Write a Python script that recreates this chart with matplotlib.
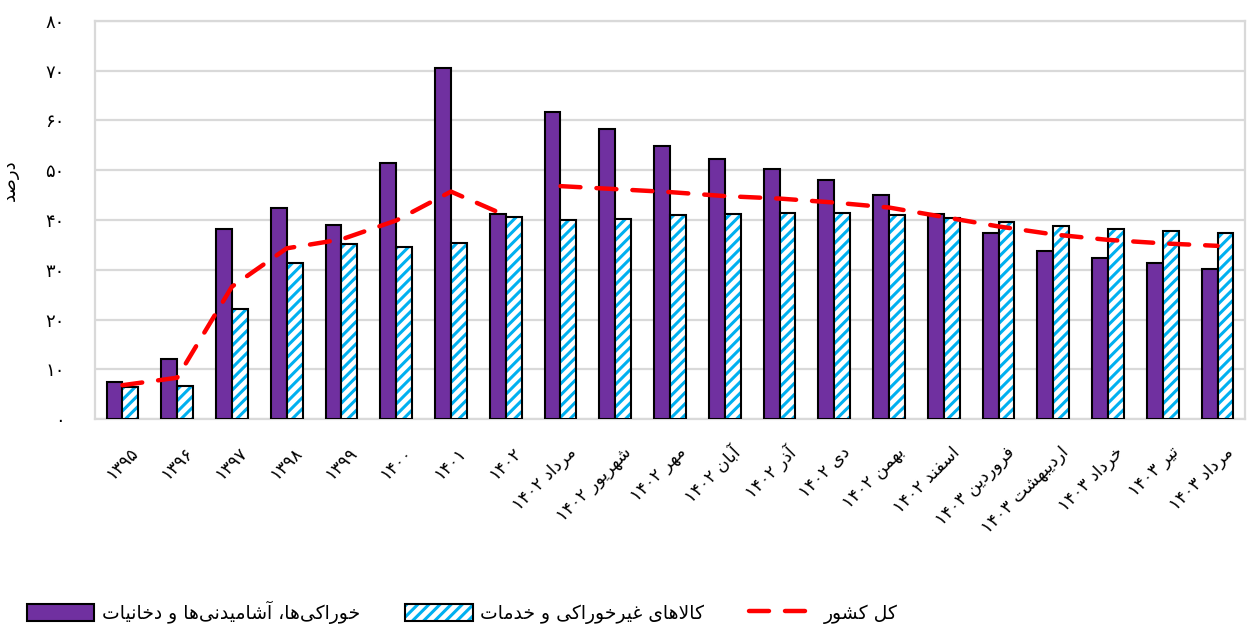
import re
import numpy as np
import matplotlib
matplotlib.use("Agg")
import matplotlib.pyplot as plt
import matplotlib.transforms as mtransforms
from matplotlib.patches import Patch
from matplotlib.lines import Line2D
from matplotlib.legend_handler import HandlerTuple

# ---------------- data ----------------
categories = ["۱۳۹۵", "۱۳۹۶", "۱۳۹۷", "۱۳۹۸", "۱۳۹۹", "۱۴۰۰", "۱۴۰۱", "۱۴۰۲",
              "مرداد ۱۴۰۲", "شهریور ۱۴۰۲", "مهر ۱۴۰۲", "آبان ۱۴۰۲", "آذر ۱۴۰۲",
              "دی ۱۴۰۲", "بهمن ۱۴۰۲", "اسفند ۱۴۰۲", "فروردین ۱۴۰۳",
              "اردیبهشت ۱۴۰۳", "خرداد ۱۴۰۳", "تیر ۱۴۰۳", "مرداد ۱۴۰۳"]
food = [7.4, 12.1, 38.1, 42.5, 38.9, 51.4, 70.5, 41.2, 61.6, 58.2, 54.9,
        52.2, 50.3, 48.0, 45.1, 41.2, 37.4, 33.7, 32.3, 31.4, 30.2]
nonfood = [6.4, 6.6, 22.2, 31.3, 35.2, 34.6, 35.4, 40.5, 39.9, 40.2, 40.9,
           41.1, 41.3, 41.3, 41.0, 40.4, 39.5, 38.7, 38.1, 37.7, 37.3]
total = [6.8, 8.3, 26.6, 34.3, 36.1, 39.9, 45.7, 40.9, 46.8, 46.2, 45.6,
         44.8, 44.3, 43.5, 42.5, 40.6, 38.7, 37.1, 36.0, 35.3, 34.8]
annual_count = 8  # first 8 points are annual, then monthly (line broken between)
yticks = [0, 10, 20, 30, 40, 50, 60, 70, 80]
ytick_labels = ["۰", "۱۰", "۲۰", "۳۰", "۴۰", "۵۰", "۶۰", "۷۰", "۸۰"]
series_names = ["خوراکی‌ها، آشامیدنی‌ها و دخانیات", "کالاهای غیرخوراکی و خدمات", "کل کشور"]
ylabel = "درصد"

# ---------------- Persian shaping ----------------
FORMS = {
    '\u0622': ('\uFE81', '\uFE82', None, None),
    '\u0627': ('\uFE8D', '\uFE8E', None, None),
    '\u0628': ('\uFE8F', '\uFE90', '\uFE91', '\uFE92'),
    '\u062A': ('\uFE95', '\uFE96', '\uFE97', '\uFE98'),
    '\u062B': ('\uFE99', '\uFE9A', '\uFE9B', '\uFE9C'),
    '\u062C': ('\uFE9D', '\uFE9E', '\uFE9F', '\uFEA0'),
    '\u062D': ('\uFEA1', '\uFEA2', '\uFEA3', '\uFEA4'),
    '\u062E': ('\uFEA5', '\uFEA6', '\uFEA7', '\uFEA8'),
    '\u062F': ('\uFEA9', '\uFEAA', None, None),
    '\u0630': ('\uFEAB', '\uFEAC', None, None),
    '\u0631': ('\uFEAD', '\uFEAE', None, None),
    '\u0632': ('\uFEAF', '\uFEB0', None, None),
    '\u0633': ('\uFEB1', '\uFEB2', '\uFEB3', '\uFEB4'),
    '\u0634': ('\uFEB5', '\uFEB6', '\uFEB7', '\uFEB8'),
    '\u0635': ('\uFEB9', '\uFEBA', '\uFEBB', '\uFEBC'),
    '\u0636': ('\uFEBD', '\uFEBE', '\uFEBF', '\uFEC0'),
    '\u0637': ('\uFEC1', '\uFEC2', '\uFEC3', '\uFEC4'),
    '\u0638': ('\uFEC5', '\uFEC6', '\uFEC7', '\uFEC8'),
    '\u0639': ('\uFEC9', '\uFECA', '\uFECB', '\uFECC'),
    '\u063A': ('\uFECD', '\uFECE', '\uFECF', '\uFED0'),
    '\u0641': ('\uFED1', '\uFED2', '\uFED3', '\uFED4'),
    '\u0642': ('\uFED5', '\uFED6', '\uFED7', '\uFED8'),
    '\u0643': ('\uFED9', '\uFEDA', '\uFEDB', '\uFEDC'),
    '\u0644': ('\uFEDD', '\uFEDE', '\uFEDF', '\uFEE0'),
    '\u0645': ('\uFEE1', '\uFEE2', '\uFEE3', '\uFEE4'),
    '\u0646': ('\uFEE5', '\uFEE6', '\uFEE7', '\uFEE8'),
    '\u0647': ('\uFEE9', '\uFEEA', '\uFEEB', '\uFEEC'),
    '\u0648': ('\uFEED', '\uFEEE', None, None),
    '\u064A': ('\uFEF1', '\uFEF2', '\uFEF3', '\uFEF4'),
    '\u06CC': ('\uFBFC', '\uFBFD', '\uFBFE', '\uFBFF'),
    '\u067E': ('\uFB56', '\uFB57', '\uFB58', '\uFB59'),
    '\u0686': ('\uFB7A', '\uFB7B', '\uFB7C', '\uFB7D'),
    '\u0698': ('\uFB8A', '\uFB8B', None, None),
    '\u06A9': ('\uFB8E', '\uFB8F', '\uFB90', '\uFB91'),
    '\u06AF': ('\uFB92', '\uFB93', '\uFB94', '\uFB95'),
}
LAMALEF = {'\u0627': ('\uFEFB', '\uFEFC'), '\u0622': ('\uFEF5', '\uFEF6')}


def _dual(c):
    return c in FORMS and FORMS[c][2] is not None


def _shape(s):
    out = []
    n = len(s)
    i = 0
    while i < n:
        c = s[i]
        if c not in FORMS:
            out.append(c)
            i += 1
            continue
        prev = s[i - 1] if i > 0 else None
        conn_prev = prev is not None and _dual(prev)
        if c == '\u0644' and i + 1 < n and s[i + 1] in LAMALEF:
            lig = LAMALEF[s[i + 1]]
            out.append(lig[1] if conn_prev else lig[0])
            i += 2
            continue
        nxt = s[i + 1] if i + 1 < n else None
        conn_next = _dual(c) and nxt is not None and nxt in FORMS
        f = FORMS[c]
        if conn_prev and conn_next:
            out.append(f[3])
        elif conn_prev:
            out.append(f[1])
        elif conn_next:
            out.append(f[2])
        else:
            out.append(f[0])
        i += 1
    return ''.join(out)


def fa(s):
    t = _shape(s).replace('\u200c', '')
    t = t[::-1]
    t = re.sub(r'[\u06F0-\u06F90-9]+', lambda m: m.group(0)[::-1], t)
    return t


# ---------------- plot ----------------
plt.rcParams['font.family'] = ['DejaVu Sans']
plt.rcParams['hatch.linewidth'] = 2.2

PURPLE = '#7030A0'
BLUE = '#00B0F0'
RED = '#FF0000'
GRID = '#D9D9D9'

fig = plt.figure(figsize=(12.52, 6.33), dpi=100)
ax = fig.add_axes([0.0759, 0.338, 0.9185, 0.629])

x = np.arange(len(categories))
w = 0.29

ax.bar(x - w / 2, food, width=w, color=PURPLE, edgecolor='black', linewidth=1.5, zorder=3)
ax.bar(x + w / 2, nonfood, width=w, color='white', edgecolor=BLUE, linewidth=0, hatch='///', zorder=3)
ax.bar(x + w / 2, nonfood, width=w, fill=False, edgecolor='black', linewidth=1.5, zorder=4)

line_kw = dict(color=RED, linewidth=3.2, linestyle=(0, (4.5, 3.6)), dash_capstyle='round',
               solid_capstyle='round', zorder=5)
ax.plot(x[:annual_count], total[:annual_count], **line_kw)
ax.plot(x[annual_count:], total[annual_count:], **line_kw)

ax.set_xlim(-0.5, len(categories) - 0.5)
ax.set_ylim(0, 80)
ax.set_yticks(yticks)
ax.set_yticklabels([fa(t) for t in ytick_labels], fontsize=13)
ax.tick_params(axis='y', length=0, pad=22)
ax.yaxis.grid(True, color=GRID, linewidth=1.6, zorder=0)
ax.set_axisbelow(True)
for sp in ax.spines.values():
    sp.set_color(GRID)
    sp.set_linewidth(1.6)

ax.set_xticks(x)
ax.set_xticklabels([fa(c) for c in categories], rotation=45, ha='right', va='center',
                   rotation_mode='anchor', fontsize=12.5)
ax.tick_params(axis='x', length=0, pad=22)
offset = mtransforms.ScaledTranslation(13 / 100, 0, fig.dpi_scale_trans)
for lbl in ax.get_xticklabels():
    lbl.set_transform(lbl.get_transform() + offset)

ax.set_ylabel(fa(ylabel), fontsize=13)
ax.yaxis.set_label_coords(-0.066, 0.6)

h_food = Patch(facecolor=PURPLE, edgecolor='black', linewidth=1.5)
h_nf1 = Patch(facecolor='white', edgecolor=BLUE, linewidth=0, hatch='///')
h_nf2 = Patch(fill=False, edgecolor='black', linewidth=1.5)
h_tot = Line2D([], [], color=RED, linewidth=3.2, linestyle=(0, (4.5, 3.6)), dash_capstyle='round')
fig.legend([h_food, (h_nf1, h_nf2), h_tot], [fa(s) for s in series_names],
           handler_map={tuple: HandlerTuple(ndivide=1, pad=0)},
           loc='lower left', bbox_to_anchor=(0.008, -0.012), ncol=3, frameon=False,
           fontsize=13.5, handlelength=3.6, handleheight=1.0, columnspacing=2.4,
           handletextpad=0.4)

fig.savefig('out.png', dpi=100)
